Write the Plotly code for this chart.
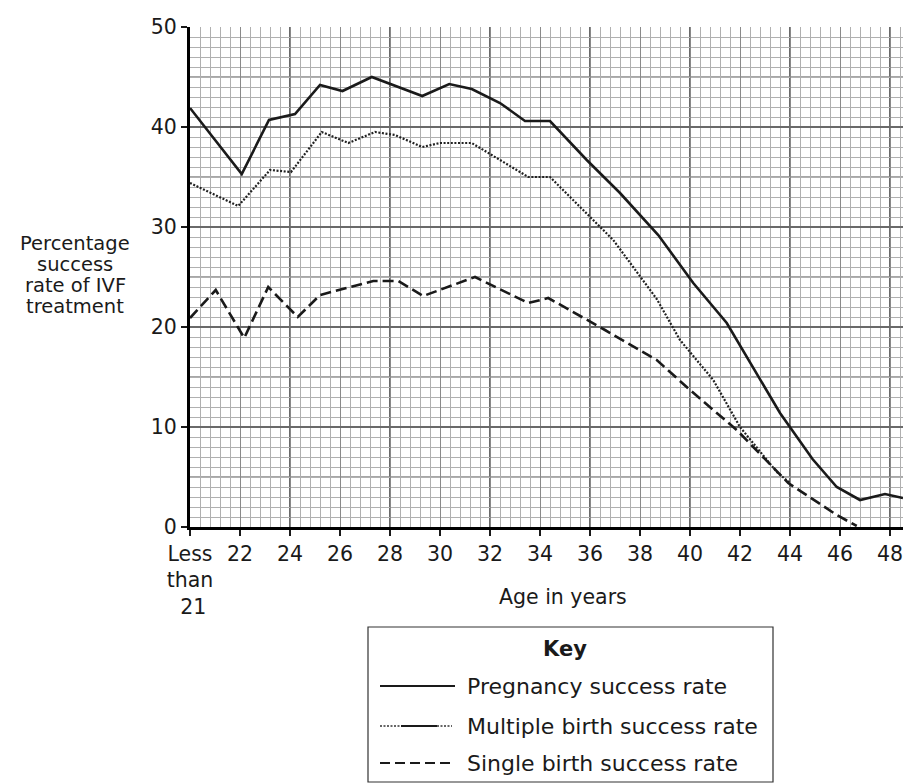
import plotly.graph_objects as go

# ---------------- data ----------------
preg_age = [20.0, 22.07, 23.16, 24.2, 25.2, 26.1, 27.27, 29.29, 30.37, 31.27, 32.4, 33.4,
            34.4, 35.87, 37.2, 38.73, 40.13, 41.47, 43.6, 44.9, 45.87, 46.8, 47.8, 48.52]
preg_val = [41.9, 35.3, 40.7, 41.3, 44.2, 43.6, 45.0, 43.1, 44.3, 43.8, 42.4, 40.6,
            40.6, 36.7, 33.4, 29.2, 24.4, 20.4, 11.4, 6.8, 4.0, 2.7, 3.3, 2.9]

mult_age = [20.0, 21.93, 23.2, 24.04, 25.27, 26.33, 27.4, 28.2, 29.29, 30.0, 31.27, 32.4,
            33.53, 34.4, 35.6, 36.93, 38.67, 39.6, 40.93, 42.0, 43.47, 44.0]
mult_val = [34.4, 32.1, 35.7, 35.5, 39.5, 38.4, 39.5, 39.2, 38.0, 38.4, 38.4, 36.7,
            35.0, 35.0, 32.0, 28.7, 22.8, 18.7, 14.7, 10.0, 5.5, 4.4]

single_age = [20.0, 21.03, 22.17, 23.13, 24.31, 25.2, 27.33, 28.33, 29.33, 31.4, 33.53,
              34.33, 36.6, 38.67, 40.0, 41.87, 43.93, 45.87, 46.67]
single_val = [20.9, 23.7, 18.9, 24.0, 21.0, 23.2, 24.6, 24.6, 23.1, 25.0, 22.4,
              22.9, 19.7, 16.7, 13.7, 9.7, 4.4, 1.2, 0.1]

x_tickvals = [20, 22, 24, 26, 28, 30, 32, 34, 36, 38, 40, 42, 44, 46, 48]
x_ticktext = ["Less<br>than<br> 21", "22", "24", "26", "28", "30", "32", "34", "36",
              "38", "40", "42", "44", "46", "48"]
y_tickvals = [0, 10, 20, 30, 40, 50]

series_names = ["Pregnancy success rate", "Multiple birth success rate",
                "Single birth success rate"]
y_title_lines = ["Percentage", "success", "rate of IVF", "treatment"]
x_title = "Age in years"
key_title = "Key"

# ---------------- layout geometry ----------------
W, H = 903, 783
L, R, T, B = 190, 0, 27, 256
PW, PH = W - L - R, H - T - B


def px(xp):
    return (xp - L) / PW


def py(yp):
    return (H - B - yp) / PH


FONT = "DejaVu Sans, Liberation Sans, Arial, sans-serif"
INK = "#1a1a1a"
FINE = "#b0b0b0"
MED = "#8a8a8a"
BOLD = "#6a6a6a"

fig = go.Figure()
fig.add_trace(go.Scatter(x=preg_age, y=preg_val, mode="lines", name=series_names[0],
                         line=dict(color=INK, width=2.6), showlegend=False))
fig.add_trace(go.Scatter(x=mult_age, y=mult_val, mode="lines", name=series_names[1],
                         line=dict(color="#222222", width=2.2, dash="2px,1.6px"),
                         showlegend=False))
fig.add_trace(go.Scatter(x=single_age, y=single_val, mode="lines", name=series_names[2],
                         line=dict(color=INK, width=2.6, dash="11px,5px"),
                         showlegend=False))

shapes = []
# bold vertical grid every 4 years
for v in range(24, 49, 4):
    shapes.append(dict(type="line", xref="x", yref="paper", x0=v, x1=v, y0=0, y1=1,
                       layer="between", line=dict(color=BOLD, width=2)))
# medium horizontal grid every 5 units
for v in [5, 15, 25, 35, 45]:
    shapes.append(dict(type="line", xref="paper", yref="y", x0=0, x1=1, y0=v, y1=v,
                       layer="between", line=dict(color=MED, width=1.3)))

# key box
shapes.append(dict(type="rect", xref="paper", yref="paper", x0=px(368), x1=px(773),
                   y0=py(782), y1=py(627), line=dict(color="#333", width=1.2),
                   fillcolor="white", layer="above"))
rows = [686, 726, 763]
shapes.append(dict(type="line", xref="paper", yref="paper", x0=px(380), x1=px(455),
                   y0=py(rows[0]), y1=py(rows[0]), line=dict(color=INK, width=2)))
shapes.append(dict(type="line", xref="paper", yref="paper", x0=px(380), x1=px(401),
                   y0=py(rows[1]), y1=py(rows[1]),
                   line=dict(color="#333", width=1.6, dash="2px,1.5px")))
shapes.append(dict(type="line", xref="paper", yref="paper", x0=px(401), x1=px(437),
                   y0=py(rows[1]), y1=py(rows[1]), line=dict(color=INK, width=2)))
shapes.append(dict(type="line", xref="paper", yref="paper", x0=px(437), x1=px(452),
                   y0=py(rows[1]), y1=py(rows[1]),
                   line=dict(color="#333", width=1.6, dash="2px,1.5px")))
shapes.append(dict(type="line", xref="paper", yref="paper", x0=px(380), x1=px(455),
                   y0=py(rows[2]), y1=py(rows[2]),
                   line=dict(color=INK, width=2.2, dash="10px,5px")))

annotations = []
for i, t in enumerate(y_title_lines):
    annotations.append(dict(text=t, xref="paper", yref="paper", x=px(75),
                            y=py(243 + i * 21.3), xanchor="center", yanchor="middle",
                            showarrow=False, borderpad=0,
                            font=dict(size=19.5, color=INK, family=FONT)))
annotations.append(dict(text=x_title, xref="paper", yref="paper", x=px(563), y=py(597),
                        xanchor="center", yanchor="middle", showarrow=False,
                        font=dict(size=20.5, color=INK, family=FONT)))
annotations.append(dict(text="<b>" + key_title + "</b>", xref="paper", yref="paper",
                        x=px(565), y=py(649), xanchor="center", yanchor="middle",
                        showarrow=False, font=dict(size=21, color=INK, family=FONT)))
for r, name in zip(rows, series_names):
    annotations.append(dict(text=name, xref="paper", yref="paper", x=px(465), y=py(r),
                            xanchor="left", yanchor="middle", showarrow=False,
                            font=dict(size=22, color=INK, family=FONT)))

fig.update_layout(
    width=W, height=H, autosize=False,
    margin=dict(l=L, r=R, t=T, b=B, pad=0),
    paper_bgcolor="white", plot_bgcolor="white",
    font=dict(family=FONT, color=INK, size=20),
    shapes=shapes, annotations=annotations,
    xaxis=dict(range=[20, 48.52], tickmode="array", tickvals=x_tickvals,
               ticktext=x_ticktext, ticks="outside", ticklen=6, tickwidth=1.5,
               tickcolor=INK, showline=True, linewidth=3, linecolor="black",
               showgrid=True, gridcolor=MED, gridwidth=1.3, zeroline=False,
               ticklabeloverflow="allow",
               tickfont=dict(size=20.5, family=FONT, color=INK),
               minor=dict(tick0=20, dtick=0.4, showgrid=True, gridcolor=FINE,
                          gridwidth=1)),
    yaxis=dict(range=[0, 50], tickmode="array", tickvals=y_tickvals, ticks="outside",
               ticklen=6, tickwidth=1.5, tickcolor=INK, showline=True, linewidth=3,
               linecolor="black", showgrid=True, gridcolor=BOLD, gridwidth=2,
               zeroline=False, ticklabeloverflow="allow",
               tickfont=dict(size=20.5, family=FONT, color=INK),
               minor=dict(tick0=0, dtick=1, showgrid=True, gridcolor=FINE,
                          gridwidth=1)),
)

fig.write_html("out.html", config={"displayModeBar": False},
               post_script="document.body.style.margin='0';"
                           "document.body.style.overflow='hidden';")
